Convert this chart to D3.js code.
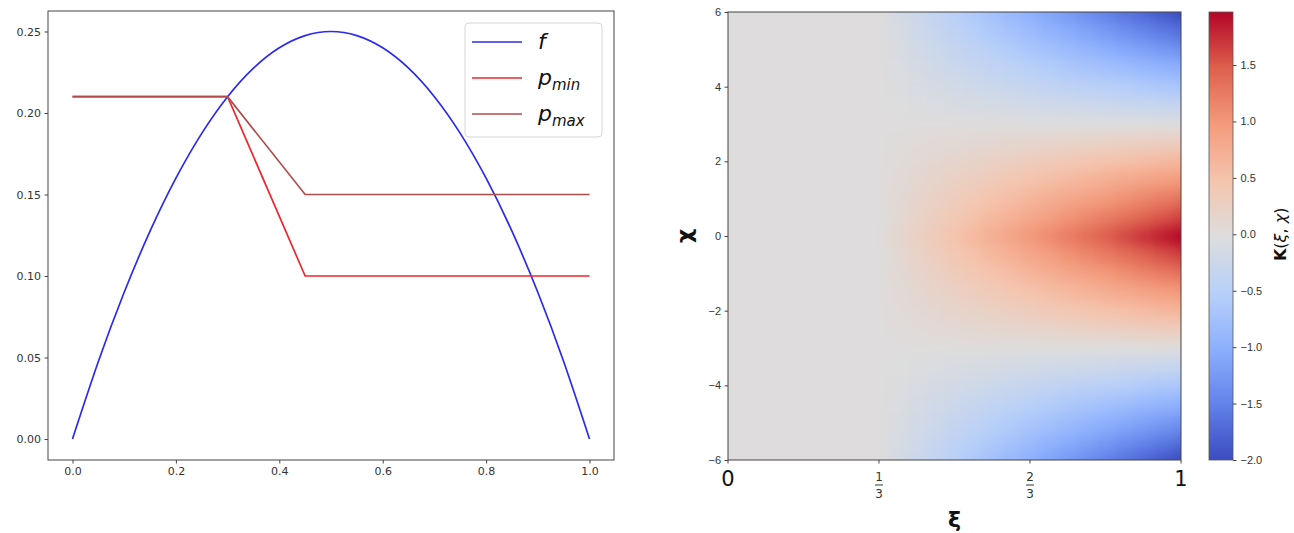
<!DOCTYPE html>
<html><head><meta charset="utf-8">
<script src="https://cdn.jsdelivr.net/npm/d3@7"></script>
<style>
body{margin:0;background:#fff;}
svg{display:block;font-family:"DejaVu Sans",sans-serif;}
</style></head><body>
<svg id="chart" width="1294" height="533"></svg>
<script>
// ---------- Left panel data ----------
const fX = [0,0.05,0.1,0.15,0.2,0.25,0.3,0.35,0.4,0.45,0.5,0.55,0.6,0.65,0.7,0.75,0.8,0.85,0.9,0.95,1.0];
const fY = [0,0.0475,0.09,0.1275,0.16,0.1875,0.21,0.2275,0.24,0.2475,0.25,0.2475,0.24,0.2275,0.21,0.1875,0.16,0.1275,0.09,0.0475,0];
const pMinX = [0,0.3,0.45,1.0];
const pMinY = [0.21,0.21,0.10,0.10];
const pMaxX = [0,0.3,0.45,1.0];
const pMaxY = [0.21,0.21,0.15,0.15];
const leftXTicks = [0,0.2,0.4,0.6,0.8,1.0];
const leftYTicks = [0,0.05,0.10,0.15,0.20,0.25];
const legendNames = ["f","p","p"];
const legendSubs = ["","min","max"];
const seriesColors = ["#2b2bf0","#f0262e","#b04c4a"];

// ---------- Right panel data ----------
const xiValues = [0,0.0417,0.0833,0.125,0.1667,0.2083,0.25,0.2917,0.3333,0.375,0.4167,0.4583,0.5,0.5417,0.5833,0.625,0.6667,0.7083,0.75,0.7917,0.8333,0.875,0.9167,0.9583,1.0];
const chiValues = [-6,-5.5,-5,-4.5,-4,-3.5,-3,-2.5,-2,-1.5,-1,-0.5,0,0.5,1,1.5,2,2.5,3,3.5,4,4.5,5,5.5,6];
const kValues = [
 [0,0,0,0,0,0,0,0,0,-0.13,-0.25,-0.38,-0.50,-0.63,-0.75,-0.88,-1.00,-1.13,-1.25,-1.38,-1.50,-1.63,-1.75,-1.88,-2.00],
 [0,0,0,0,0,0,0,0,0,-0.10,-0.21,-0.31,-0.42,-0.52,-0.63,-0.73,-0.84,-0.94,-1.04,-1.15,-1.25,-1.36,-1.46,-1.57,-1.67],
 [0,0,0,0,0,0,0,0,0,-0.08,-0.17,-0.25,-0.34,-0.42,-0.50,-0.59,-0.67,-0.75,-0.84,-0.92,-1.01,-1.09,-1.17,-1.26,-1.34],
 [0,0,0,0,0,0,0,0,0,-0.06,-0.13,-0.19,-0.25,-0.31,-0.38,-0.44,-0.50,-0.56,-0.63,-0.69,-0.75,-0.81,-0.88,-0.94,-1.00],
 [0,0,0,0,0,0,0,0,0,-0.04,-0.08,-0.13,-0.17,-0.21,-0.25,-0.29,-0.34,-0.38,-0.42,-0.46,-0.50,-0.54,-0.59,-0.63,-0.67],
 [0,0,0,0,0,0,0,0,0,-0.02,-0.04,-0.06,-0.09,-0.11,-0.13,-0.15,-0.17,-0.19,-0.21,-0.23,-0.26,-0.28,-0.30,-0.32,-0.34],
 [0,0,0,0,0,0,0,0,0,0.00,0.00,0.00,0.00,0.00,0.00,0.00,-0.01,-0.01,-0.01,-0.01,-0.01,-0.01,-0.01,-0.01,-0.01],
 [0,0,0,0,0,0,0,0,0,0.02,0.04,0.06,0.08,0.10,0.12,0.14,0.16,0.18,0.20,0.22,0.24,0.26,0.28,0.30,0.32],
 [0,0,0,0,0,0,0,0,0,0.04,0.08,0.12,0.16,0.20,0.24,0.28,0.33,0.37,0.41,0.45,0.49,0.53,0.57,0.61,0.65],
 [0,0,0,0,0,0,0,0,0,0.06,0.12,0.18,0.25,0.31,0.37,0.43,0.49,0.55,0.61,0.67,0.74,0.80,0.86,0.92,0.98],
 [0,0,0,0,0,0,0,0,0,0.08,0.16,0.25,0.33,0.41,0.49,0.57,0.66,0.74,0.82,0.90,0.98,1.06,1.15,1.23,1.31],
 [0,0,0,0,0,0,0,0,0,0.10,0.21,0.31,0.41,0.51,0.62,0.72,0.82,0.92,1.03,1.13,1.23,1.33,1.44,1.54,1.64],
 [0,0,0,0,0,0,0,0,0,0.12,0.25,0.37,0.49,0.62,0.74,0.86,0.99,1.11,1.23,1.35,1.48,1.60,1.72,1.85,1.97],
 [0,0,0,0,0,0,0,0,0,0.10,0.21,0.31,0.41,0.51,0.62,0.72,0.82,0.92,1.03,1.13,1.23,1.33,1.44,1.54,1.64],
 [0,0,0,0,0,0,0,0,0,0.08,0.16,0.25,0.33,0.41,0.49,0.57,0.66,0.74,0.82,0.90,0.98,1.06,1.15,1.23,1.31],
 [0,0,0,0,0,0,0,0,0,0.06,0.12,0.18,0.25,0.31,0.37,0.43,0.49,0.55,0.61,0.67,0.74,0.80,0.86,0.92,0.98],
 [0,0,0,0,0,0,0,0,0,0.04,0.08,0.12,0.16,0.20,0.24,0.28,0.33,0.37,0.41,0.45,0.49,0.53,0.57,0.61,0.65],
 [0,0,0,0,0,0,0,0,0,0.02,0.04,0.06,0.08,0.10,0.12,0.14,0.16,0.18,0.20,0.22,0.24,0.26,0.28,0.30,0.32],
 [0,0,0,0,0,0,0,0,0,0.00,0.00,0.00,0.00,0.00,0.00,0.00,-0.01,-0.01,-0.01,-0.01,-0.01,-0.01,-0.01,-0.01,-0.01],
 [0,0,0,0,0,0,0,0,0,-0.02,-0.04,-0.06,-0.09,-0.11,-0.13,-0.15,-0.17,-0.19,-0.21,-0.23,-0.26,-0.28,-0.30,-0.32,-0.34],
 [0,0,0,0,0,0,0,0,0,-0.04,-0.08,-0.13,-0.17,-0.21,-0.25,-0.29,-0.34,-0.38,-0.42,-0.46,-0.50,-0.54,-0.59,-0.63,-0.67],
 [0,0,0,0,0,0,0,0,0,-0.06,-0.13,-0.19,-0.25,-0.31,-0.38,-0.44,-0.50,-0.56,-0.63,-0.69,-0.75,-0.81,-0.88,-0.94,-1.00],
 [0,0,0,0,0,0,0,0,0,-0.08,-0.17,-0.25,-0.34,-0.42,-0.50,-0.59,-0.67,-0.75,-0.84,-0.92,-1.01,-1.09,-1.17,-1.26,-1.34],
 [0,0,0,0,0,0,0,0,0,-0.10,-0.21,-0.31,-0.42,-0.52,-0.63,-0.73,-0.84,-0.94,-1.04,-1.15,-1.25,-1.36,-1.46,-1.57,-1.67],
 [0,0,0,0,0,0,0,0,0,-0.13,-0.25,-0.38,-0.50,-0.63,-0.75,-0.88,-1.00,-1.13,-1.25,-1.38,-1.50,-1.63,-1.75,-1.88,-2.00]
];
const kMin = -2.0, kMax = 1.97;
const xiTicks = [0, 0.3333, 0.6667, 1];
const xiTickLabels = ["0","1/3","2/3","1"];
const chiTicks = [-6,-4,-2,0,2,4,6];
const cbTicks = [-2.0,-1.5,-1.0,-0.5,0.0,0.5,1.0,1.5];
// coolwarm colormap stops
const cmapPos = [0,0.125,0.25,0.375,0.5,0.625,0.75,0.875,1];
const cmapCols = ["#3b4cc0","#6282ea","#8db0fe","#b8d0f9","#dddddd","#f5c4ad","#f49a7b","#de604d","#b40426"];

// ---------- Drawing ----------
const svg = d3.select("#chart");
const txtCol = "#333";
const cmap = d3.scaleLinear().domain(cmapPos).range(cmapCols).interpolate(d3.interpolateRgb).clamp(true);
const norm = d3.scaleLinear().domain([kMin,kMax]).range([0,1]);
const colorOf = v => cmap(norm(v));

// ===== Left panel =====
const L = {l:48, r:614, t:11, b:460};
const xL = d3.scaleLinear().domain([0,1]).range([72.5,589.5]);
const yL = d3.scaleLinear().domain([0,0.25]).range([439,31.5]);
const gL = svg.append("g");

const line = d3.line().x(d=>xL(d[0])).y(d=>yL(d[1]));
const fPts = fX.map((x,i)=>[x,fY[i]]);
gL.append("path").attr("d", line.curve(d3.curveNatural)(fPts))
  .attr("fill","none").attr("stroke",seriesColors[0]).attr("stroke-width",1.7);
const line2 = d3.line().x(d=>xL(d[0])).y(d=>yL(d[1]));
gL.append("path").attr("d", line2(pMinX.map((x,i)=>[x,pMinY[i]])))
  .attr("fill","none").attr("stroke",seriesColors[1]).attr("stroke-width",1.7);
gL.append("path").attr("d", line2(pMaxX.map((x,i)=>[x,pMaxY[i]])))
  .attr("fill","none").attr("stroke",seriesColors[2]).attr("stroke-width",1.7);

gL.append("rect").attr("x",L.l).attr("y",L.t).attr("width",L.r-L.l).attr("height",L.b-L.t)
  .attr("fill","none").attr("stroke","#444").attr("stroke-width",1);

const axXL = gL.append("g").attr("transform",`translate(0,${L.b})`)
  .call(d3.axisBottom(xL).tickValues(leftXTicks).tickFormat(d3.format(".1f")).tickSize(3.5).tickPadding(4));
const axYL = gL.append("g").attr("transform",`translate(${L.l},0)`)
  .call(d3.axisLeft(yL).tickValues(leftYTicks).tickFormat(d3.format(".2f")).tickSize(3.5).tickPadding(3.5));
[axXL, axYL].forEach(a=>{
  a.select(".domain").remove();
  a.selectAll("line").attr("stroke","#444");
  a.selectAll("text").attr("fill",txtCol).style("font-size","11px").style("font-family","'DejaVu Sans',sans-serif");
});

// legend
const lg = gL.append("g");
lg.append("rect").attr("x",465).attr("y",23).attr("width",137).attr("height",114).attr("rx",4)
  .attr("fill","#fff").attr("fill-opacity",0.85).attr("stroke","#d6d6d6");
const rowY = d3.scalePoint().domain(d3.range(legendNames.length)).range([42,114]);
legendNames.forEach((nm,i)=>{
  const y = rowY(i);
  lg.append("line").attr("x1",472).attr("x2",522).attr("y1",y).attr("y2",y)
    .attr("stroke",seriesColors[i]).attr("stroke-width",1.7);
  const t = lg.append("text").attr("x",538).attr("y",y+7).attr("fill","#111")
    .style("font-size","22px").style("font-style","italic");
  t.append("tspan").text(nm);
  if (legendSubs[i]) t.append("tspan").attr("dy",5).style("font-size","15px").text(legendSubs[i]);
});

// ===== Right panel: heatmap =====
const H = {l:728, r:1181, t:12, b:460};
const xH = d3.scaleLinear().domain([0,1]).range([H.l,H.r]);
const yH = d3.scaleLinear().domain([-6,6]).range([H.b,H.t]);

const defs = svg.append("defs");
defs.append("clipPath").attr("id","hclip").append("rect")
  .attr("x",H.l).attr("y",H.t).attr("width",H.r-H.l).attr("height",H.b-H.t);
const filt = defs.append("filter").attr("id","smooth").attr("x","-10%").attr("y","-10%")
  .attr("width","120%").attr("height","120%").attr("color-interpolation-filters","sRGB");
filt.append("feGaussianBlur").attr("stdDeviation","6 7");

const cells = [];
chiValues.forEach((c,i)=>{
  xiValues.forEach((x,j)=>{
    const x0 = j===0 ? x-0.08 : (xiValues[j-1]+x)/2;
    const x1 = j===xiValues.length-1 ? x+0.08 : (x+xiValues[j+1])/2;
    const c0 = i===0 ? c-1 : (chiValues[i-1]+c)/2;
    const c1 = i===chiValues.length-1 ? c+1 : (c+chiValues[i+1])/2;
    cells.push({x0,x1,c0,c1,v:kValues[i][j]});
  });
});
const gH = svg.append("g").attr("clip-path","url(#hclip)");
gH.append("g").attr("filter","url(#smooth)")
  .selectAll("rect").data(cells).join("rect")
  .attr("x",d=>xH(d.x0)).attr("width",d=>xH(d.x1)-xH(d.x0)+0.5)
  .attr("y",d=>yH(d.c1)).attr("height",d=>yH(d.c0)-yH(d.c1)+0.5)
  .attr("fill",d=>colorOf(d.v)).attr("shape-rendering","crispEdges");

svg.append("rect").attr("x",H.l).attr("y",H.t).attr("width",H.r-H.l).attr("height",H.b-H.t)
  .attr("fill","none").attr("stroke","#444").attr("stroke-width",1);

const axYH = svg.append("g").attr("transform",`translate(${H.l},0)`)
  .call(d3.axisLeft(yH).tickValues(chiTicks).tickFormat(d3.format("d")).tickSize(3.5).tickPadding(3.5));
axYH.select(".domain").remove();
axYH.selectAll("line").attr("stroke","#444");
axYH.selectAll("text").attr("fill",txtCol).style("font-size","11px");

// x ticks with fraction labels
const axXH = svg.append("g");
xiTicks.forEach((t,i)=>{
  const x = xH(t);
  axXH.append("line").attr("x1",x).attr("x2",x).attr("y1",H.b).attr("y2",H.b+3.5).attr("stroke","#444");
  const lab = xiTickLabels[i];
  if (lab.includes("/")) {
    const [n,d] = lab.split("/");
    axXH.append("text").attr("x",x).attr("y",481).attr("text-anchor","middle").attr("fill",txtCol)
      .style("font-size","12px").text(n);
    axXH.append("line").attr("x1",x-4).attr("x2",x+4).attr("y1",485).attr("y2",485)
      .attr("stroke",txtCol).attr("stroke-width",1);
    axXH.append("text").attr("x",x).attr("y",498).attr("text-anchor","middle").attr("fill",txtCol)
      .style("font-size","12px").text(d);
  } else {
    axXH.append("text").attr("x",x).attr("y",486).attr("text-anchor","middle").attr("fill","#111")
      .style("font-size","21px").text(lab);
  }
});

// axis labels
svg.append("text").attr("x",(H.l+H.r)/2).attr("y",527).attr("text-anchor","middle")
  .style("font-size","22px").style("font-weight","bold").attr("fill","#111").text("ξ");
svg.append("text").attr("transform",`translate(692,${yH(0)}) rotate(-90)`).attr("text-anchor","middle")
  .style("font-size","22px").style("font-weight","bold").attr("fill","#111").text("χ");

// ===== Colorbar =====
const C = {l:1209, r:1233, t:12, b:460};
const yC = d3.scaleLinear().domain([kMin,kMax]).range([C.b,C.t]);
const grad = defs.append("linearGradient").attr("id","cbgrad").attr("x1",0).attr("y1",1).attr("x2",0).attr("y2",0);
grad.selectAll("stop").data(cmapPos).join("stop")
  .attr("offset",d=>d).attr("stop-color",(d,i)=>cmapCols[i]);
svg.append("rect").attr("x",C.l).attr("y",C.t).attr("width",C.r-C.l).attr("height",C.b-C.t)
  .attr("fill","url(#cbgrad)").attr("stroke","#555").attr("stroke-width",0.8);
const axC = svg.append("g").attr("transform",`translate(${C.r},0)`)
  .call(d3.axisRight(yC).tickValues(cbTicks).tickFormat(d3.format(".1f")).tickSize(3.5).tickPadding(4));
axC.select(".domain").remove();
axC.selectAll("line").attr("stroke","#444");
axC.selectAll("text").attr("fill",txtCol).style("font-size","11px");

const cbl = svg.append("text").attr("transform",`translate(1286,${yC(0)}) rotate(-90)`)
  .attr("text-anchor","middle").attr("fill","#111").style("font-size","16px");
cbl.append("tspan").style("font-weight","bold").text("K");
cbl.append("tspan").text("(");
cbl.append("tspan").style("font-style","italic").text("ξ");
cbl.append("tspan").text(", ");
cbl.append("tspan").style("font-style","italic").text("χ");
cbl.append("tspan").text(")");
</script>
</body></html>
